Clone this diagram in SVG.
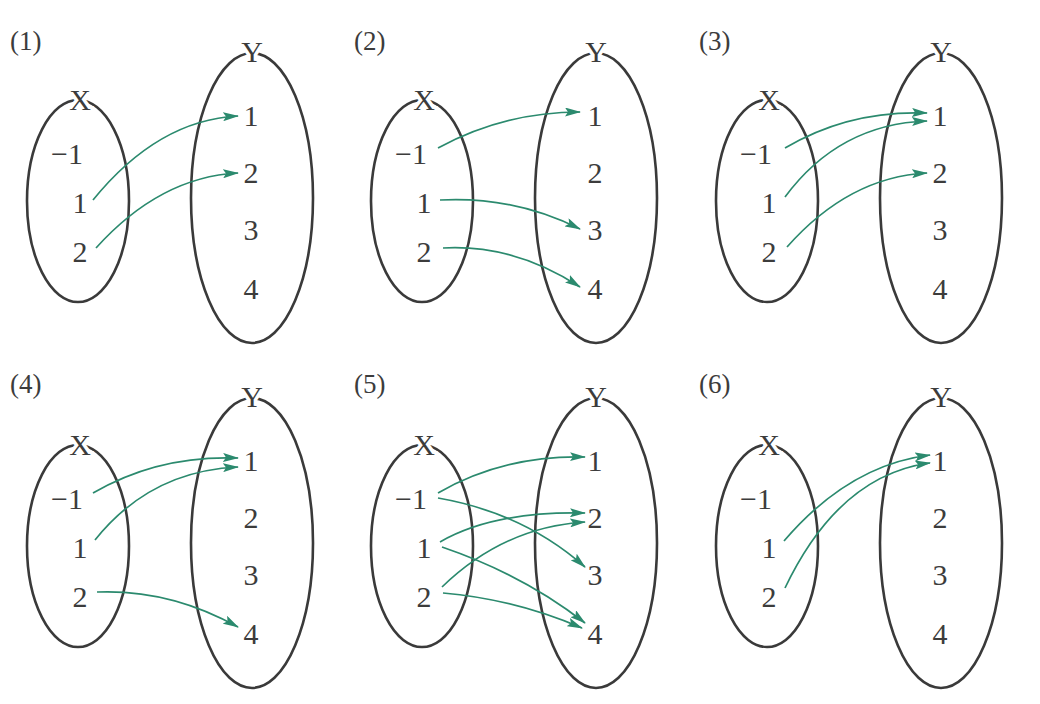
<svg xmlns="http://www.w3.org/2000/svg" width="1040" height="704" viewBox="0 0 1040 704">
<style>
.set{fill:none;stroke:#3a3a3a;stroke-width:2.6}
text{font-family:"Liberation Serif","Times New Roman",serif;fill:#3c3c3c;font-size:30px}
.t{text-anchor:middle}
.lab{font-size:27px}
.nm{text-anchor:middle;stroke:#fff;stroke-width:7;paint-order:stroke}
.c{fill:none;stroke:#2b8a6e;stroke-width:1.7;marker-end:url(#ah)}
</style>
<defs>
<marker id="ah" markerUnits="userSpaceOnUse" viewBox="0 0 16 9" refX="15" refY="4.5" markerWidth="16" markerHeight="9" orient="auto">
<path d="M0,0 L16,4.5 L0,9 L3,4.5 Z" fill="#2b8a6e"/>
</marker>
<g id="base">
<ellipse class="set" cx="78" cy="201" rx="51" ry="101"/>
<ellipse class="set" cx="252" cy="198" rx="61" ry="145"/>
<text class="nm" x="80" y="110">X</text>
<text class="nm" x="252" y="62">Y</text>
<text class="t" x="67" y="164">−1</text>
<text class="t" x="80" y="213">1</text>
<text class="t" x="80" y="262">2</text>
<text class="t" x="251" y="126">1</text>
<text class="t" x="251" y="183">2</text>
<text class="t" x="251" y="240">3</text>
<text class="t" x="251" y="299">4</text>
</g>
</defs>

<g id="panel1">
<text class="lab" x="10" y="50">(1)</text>
<g id="p1-sets"><use href="#base"/></g>
<g id="p1-connectors">
<path class="c" d="M93,200 Q158,120 238,116"/>
<path class="c" d="M96,248 Q160,177 238,173"/>
</g>
</g>

<g id="panel2" transform="translate(344,0)">
<text class="lab" x="10" y="50">(2)</text>
<g id="p2-sets"><use href="#base"/></g>
<g id="p2-connectors">
<path class="c" d="M94,148 Q160,112 236,112"/>
<path class="c" d="M96,200 Q170,196 236,229"/>
<path class="c" d="M99,248 Q170,244 236,287"/>
</g>
</g>

<g id="panel3" transform="translate(689,0)">
<text class="lab" x="10" y="50">(3)</text>
<g id="p3-sets"><use href="#base"/></g>
<g id="p3-connectors">
<path class="c" d="M96,148 Q160,110 238,113"/>
<path class="c" d="M96,197 Q150,124 238,121"/>
<path class="c" d="M98,247 Q160,177 238,173"/>
</g>
</g>

<g id="panel4" transform="translate(0,345)">
<text class="lab" x="10" y="48">(4)</text>
<g id="p4-sets"><use href="#base"/></g>
<g id="p4-connectors">
<path class="c" d="M93,148 Q158,110 238,113"/>
<path class="c" d="M95,195 Q150,126 238,122"/>
<path class="c" d="M97,247 Q170,244 238,282"/>
</g>
</g>

<g id="panel5" transform="translate(344,345)">
<text class="lab" x="10" y="48">(5)</text>
<g id="p5-sets"><use href="#base"/></g>
<g id="p5-connectors">
<path class="c" d="M94,148 Q160,110 241,112"/>
<path class="c" d="M94,153 Q180,168 241,222"/>
<path class="c" d="M96,197 Q150,166 241,168"/>
<path class="c" d="M98,202 Q180,230 241,278"/>
<path class="c" d="M98,242 Q160,182 241,177"/>
<path class="c" d="M99,248 Q170,254 238,283"/>
</g>
</g>

<g id="panel6" transform="translate(689,345)">
<text class="lab" x="10" y="48">(6)</text>
<g id="p6-sets"><use href="#base"/></g>
<g id="p6-connectors">
<path class="c" d="M95,196 Q160,120 241,110"/>
<path class="c" d="M96,243 Q150,130 241,118"/>
</g>
</g>
</svg>
